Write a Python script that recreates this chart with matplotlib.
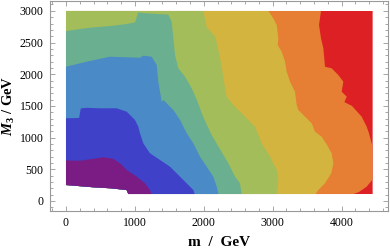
import matplotlib
matplotlib.use("Agg")
import matplotlib.pyplot as plt
from matplotlib.patches import Polygon
from matplotlib.ticker import MultipleLocator

plt.rcParams['mathtext.fontset'] = 'custom'
plt.rcParams['mathtext.it'] = 'Liberation Serif:italic:bold'
plt.rcParams['mathtext.rm'] = 'Liberation Serif:bold'
plt.rcParams['mathtext.bf'] = 'Liberation Serif:bold'

# Data region (m, M3) outline
m_max = 4450
M3_top = 3000
bottom_m = [0, 400, 650, 880, 905, 4450]
bottom_M3 = [252, 216, 200, 173, 110, 110]

# Band colours (lowest to highest)
colors = ["#7B1C84", "#3F41C8", "#4A8AC7", "#6AAF8F",
          "#A2BD5A", "#D3B43F", "#E67E33", "#DC2023"]

# Contour boundaries
b1_m = [0, 203, 396, 541, 687, 784, 881, 1026, 1147, 1219, 1244]
b1_M3 = [640, 635, 665, 690, 665, 595, 489, 383, 279, 173, 100]

b2_m = [0, 190, 215, 300, 493, 736, 881, 1001, 1050, 1074, 1122, 1219, 1364,
        1509, 1655, 1776, 1848, 1870]
b2_M3 = [1304, 1310, 1460, 1470, 1462, 1462, 1409, 1278, 1172, 1068, 910, 752,
         647, 541, 383, 252, 173, 100]

b3_m = [0, 300, 639, 1074, 1122, 1244, 1316, 1340, 1389, 1413, 1558, 1655,
        1752, 1848, 1945, 2042, 2138, 2187, 2215]
b3_M3 = [2118, 2197, 2276, 2260, 2292, 2276, 2145, 1882, 1566, 1593, 1435,
         1278, 1068, 910, 699, 541, 383, 226, 100]

b4_m = [0, 348, 687, 880, 1001, 1050, 1100, 1485, 1534, 1582, 1630, 1727,
        1824, 1900, 1990, 2100, 2200, 2356, 2453, 2525, 2550]
b4_M3 = [2681, 2733, 2765, 2792, 2818, 2976, 2965, 2940, 2828, 2303, 2093,
         1961, 1778, 1590, 1330, 1068, 880, 595, 383, 279, 100]

b5_m = [1993, 2042, 2163, 2211, 2259, 2308, 2332, 2428, 2550, 2743, 2840,
        2961, 3058, 3082, 3058]
b5_M3 = [3000, 2740, 2600, 2382, 2118, 1778, 1645, 1514, 1383, 1172, 910,
         699, 489, 331, 100]

b6_m = [2936, 3009, 3058, 3082, 3072, 3131, 3179, 3203, 3251, 3324, 3348,
        3372, 3469, 3566, 3614, 3711, 3790, 3856, 3880, 3850, 3759, 3662, 3614]
b6_M3 = [3000, 2882, 2776, 2566, 2461, 2355, 2197, 2039, 1882, 1724, 1514,
         1435, 1330, 1225, 1093, 1014, 880, 752, 595, 437, 279, 173, 100]

b7_m = [3701, 3672, 3701, 3735, 3759, 3856, 3952, 4025, 4001, 4074, 4040,
        4150, 4291, 4364, 4397, 4436, 4450, 4450, 4364, 4250, 4150]
b7_M3 = [3000, 2776, 2566, 2408, 2118, 2093, 1987, 1882, 1724, 1645, 1560,
         1500, 1330, 1172, 1068, 910, 880, 340, 226, 140, 100]

boundaries = [(b7_m, b7_M3), (b6_m, b6_M3), (b5_m, b5_M3), (b4_m, b4_M3),
              (b3_m, b3_M3), (b2_m, b2_M3), (b1_m, b1_M3)]

fig = plt.figure(figsize=(3.9, 2.49), dpi=100)
ax = fig.add_axes([50/390, 38/249, 338/390, 210/249])

region = list(zip([0, m_max] + bottom_m[::-1], [M3_top, M3_top] + bottom_M3[::-1]))
clip = Polygon(region, closed=True, transform=ax.transData)

ybot = -100
# highest band as background
bg = ax.fill([0, m_max, m_max, 0], [ybot, ybot, M3_top, M3_top],
             color=colors[7], lw=0)[0]
bg.set_clip_path(clip)
for i, (bm, bM) in enumerate(boundaries):
    xs = list(bm) + [bm[-1], 0, 0]
    ys = list(bM) + [ybot, ybot, bM[0]]
    p = ax.fill(xs, ys, color=colors[6 - i], lw=0)[0]
    p.set_clip_path(clip)

ax.set_xlim(-232, 4673)
ax.set_ylim(-158, 3155)
ax.xaxis.set_major_locator(MultipleLocator(1000))
ax.xaxis.set_minor_locator(MultipleLocator(200))
ax.yaxis.set_major_locator(MultipleLocator(500))
ax.yaxis.set_minor_locator(MultipleLocator(100))
ax.set_yticks([0, 500, 1000, 1500, 2000, 2500, 3000])
ax.tick_params(which='both', direction='in', top=True, right=True,
               color='#999999', width=0.6, labelsize=8.5, labelcolor='black')
ax.tick_params(which='major', length=3.5, pad=4.5)
ax.tick_params(which='minor', length=2)
for lab in ax.get_xticklabels() + ax.get_yticklabels():
    lab.set_family('Liberation Serif')
for s in ax.spines.values():
    s.set_color('#999999')
    s.set_linewidth(0.8)

ax.set_xlabel("m  /  GeV", family='Liberation Serif', fontweight='bold',
              fontsize=11, labelpad=5)
ax.set_ylabel(r"$M_3$ / GeV", family='Liberation Serif', fontweight='bold',
              fontsize=10.5, labelpad=2)

fig.savefig("out.png", dpi=100)
